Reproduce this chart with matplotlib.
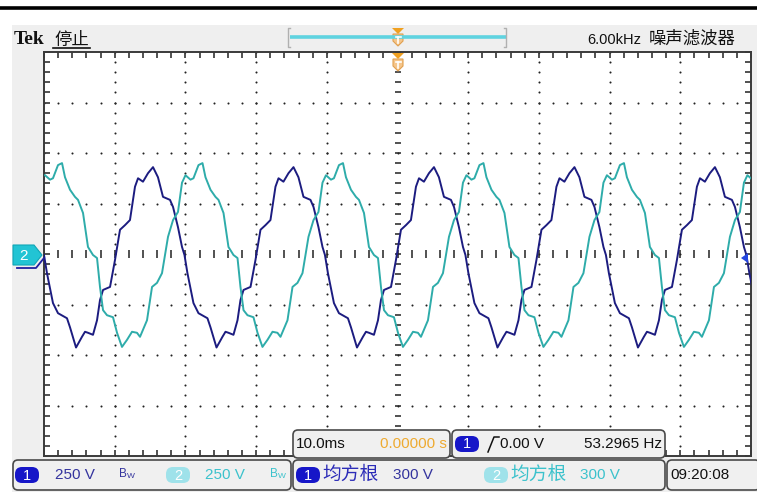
import numpy as np
import matplotlib
matplotlib.use("Agg")
import matplotlib.pyplot as plt
from matplotlib import font_manager
from matplotlib.patches import FancyBboxPatch, Rectangle, Polygon

# -------------------------
# Data: one cycle of each channel
# time in ms from the left edge of the graticule, volts
# -------------------------
ch1_t = [0.0, 0.42, 1.27, 1.98, 3.25, 3.68, 4.53, 5.37, 5.80, 6.22, 6.93, 7.50,
         7.92, 8.35, 9.34, 10.04, 10.75, 11.46, 12.16, 12.87, 13.30, 14.00,
         14.71, 15.42, 16.12, 16.83, 17.82, 18.25, 18.95, 19.52]
ch1_v = [-5, -95, -243, -293, -318, -363, -463, -410, -385, -390, -400, -328,
         -228, -178, -163, -30, 120, 143, 168, 333, 375, 358,
         400, 430, 380, 283, 268, 233, 133, 35]

ch2_t = [0.14, 0.85, 1.27, 1.98, 2.55, 2.97, 3.68, 4.38, 4.81, 5.52, 6.22,
         6.93, 7.50, 7.92, 8.35, 8.91, 9.76, 10.33, 11.03, 11.74, 12.45,
         13.15, 13.58, 14.57, 15.28, 15.98, 16.69, 17.54, 18.25, 18.95, 19.52]
ch2_v = [390, 368, 375, 440, 450, 380, 318, 283, 268, 203, 35,
         -5, -20, -163, -278, -303, -313, -390, -460, -425, -385,
         -390, -410, -328, -163, -143, -95, 85, 168, 208, 353]

period_ms = 19.87
n_cycles = 6

# screen settings
time_per_div = 10.0     # ms
volt_per_div = 250.0    # V
x_divs, y_divs = 10, 8

header_left = ["Tek", "停止"]
header_right = ["6.00kHz", "噪声滤波器"]
ch_scale = ["250 V", "250 V"]
timebase = "10.0ms"
trig_pos = "0.00000 s"
trig_level = "0.00 V"
trig_freq = "53.2965 Hz"
meas_name = "均方根"
meas_val = ["300 V", "300 V"]
clock = "09:20:08"

ch1_col = "#1c1c80"
ch2_col = "#2eacaa"
ch1_badge = "#1616c8"
ch2_badge = "#9fe2ea"
ch1_txt = "#34349e"
ch2_txt = "#3cc2cc"
orange = "#eeaa30"

names = {f.name for f in font_manager.fontManager.ttflist}
narrow = "Liberation Sans Narrow" if "Liberation Sans Narrow" in names else "Liberation Sans"
fs_num = 12 if narrow == "Liberation Sans Narrow" else 11
cjk = ["Noto Sans CJK SC", "DejaVu Sans"]

W, H = 757, 495
fig = plt.figure(figsize=(W / 100, H / 100), dpi=100)

# background layer in pixel coords
bg = fig.add_axes([0, 0, 1, 1], zorder=0)
bg.set_xlim(0, W)
bg.set_ylim(H, 0)
bg.axis("off")
bg.add_patch(Rectangle((12, 25), W - 12, 467, facecolor="#efefef", edgecolor="none"))
bg.plot([0, W], [8, 8], color="black", lw=2.6)

# -------------------------
# graticule
# -------------------------
gl, gt, gr, gb = 44, 52, 751, 456
ax = fig.add_axes([gl / W, 1 - gb / H, (gr - gl) / W, (gb - gt) / H], zorder=1)
xmax = time_per_div * x_divs / 2
ymax = volt_per_div * y_divs / 2
ax.set_xlim(-xmax, xmax)
ax.set_ylim(-ymax, ymax)
ax.set_facecolor("white")
for s in ax.spines.values():
    s.set_color("#3a3a3a")
    s.set_linewidth(1.4)
xt = np.arange(-xmax, xmax + 0.01, time_per_div / 5)
yt = np.arange(-ymax, ymax + 0.01, volt_per_div / 5)
ax.set_xticks([])
ax.set_yticks([])
ax.set_xticks(xt, minor=True)
ax.set_yticks(yt, minor=True)
ax.tick_params(which="minor", direction="in", length=4, width=1.1, color="#222222",
               top=True, bottom=True, left=True, right=True,
               labelbottom=False, labelleft=False)

for i in range(1, x_divs):
    xv = -xmax + i * time_per_div
    if abs(xv) < 1e-9:
        continue
    ax.scatter(np.full(len(yt), xv), yt, s=2.2, color="#222222", lw=0, zorder=2)
for j in range(1, y_divs):
    yv = -ymax + j * volt_per_div
    if abs(yv) < 1e-9:
        continue
    ax.scatter(xt, np.full(len(xt), yv), s=2.2, color="#222222", lw=0, zorder=2)
ax.plot(xt, np.zeros(len(xt)), ls="none", marker="|", ms=6, mew=1.1, color="#222222", zorder=2)
ax.plot(np.zeros(len(yt)), yt, ls="none", marker="_", ms=5, mew=1.1, color="#222222", zorder=2)

# traces
for tc, vc, col in [(ch1_t, ch1_v, ch1_col), (ch2_t, ch2_v, ch2_col)]:
    t = np.concatenate([np.array(tc) + k * period_ms for k in range(n_cycles)]) - xmax
    v = np.tile(vc, n_cycles)
    ax.plot(t, v, color=col, lw=1.4, zorder=3)

# -------------------------
# overlay: header, markers, status boxes
# -------------------------
ov = fig.add_axes([0, 0, 1, 1], zorder=2)
ov.set_xlim(0, W)
ov.set_ylim(H, 0)
ov.axis("off")
ov.patch.set_alpha(0)

ov.text(14, 39, header_left[0], fontsize=14, fontweight="bold", family="Liberation Serif",
        va="center", ha="left", color="#111111")
ov.text(54, 40, header_left[1], fontsize=12.5, family=cjk, va="center", ha="left", color="#111111")
ov.plot([53, 90], [48, 48], color="#111111", lw=1.2)
ov.text(641, 40, header_right[0], fontsize=10.5, family=narrow, va="center", ha="right", color="#111111")
ov.text(649, 39, header_right[1], fontsize=12.5, family=cjk, va="center", ha="left", color="#111111")

# trigger position bar
ov.plot([290, 506], [37, 37], color="#5fd3e0", lw=2.6, solid_capstyle="butt")
ov.plot([290, 288, 288, 290], [28, 28, 47, 47], color="#b0b0b0", lw=1)
ov.plot([504, 506, 506, 504], [28, 28, 47, 47], color="#b0b0b0", lw=1)


def trig_marker(y0):
    ov.add_patch(Polygon([(392, y0), (404, y0), (398, y0 + 6)], closed=True,
                         facecolor="#f0a020", edgecolor="none"))
    ov.add_patch(Polygon([(393, y0 + 6), (403, y0 + 6), (403, y0 + 13), (398, y0 + 18), (393, y0 + 13)],
                         closed=True, facecolor="#f5c58a", edgecolor="#e0a050", lw=0.8))
    ov.plot([395.5, 400.5], [y0 + 9, y0 + 9], color="white", lw=1.2)
    ov.plot([398, 398], [y0 + 9, y0 + 15], color="white", lw=1.2)


trig_marker(28)
trig_marker(53)

# channel markers at the edges
ov.plot([17, 36, 44], [268, 268, 258], color="#2020a0", lw=1.3)
ov.add_patch(Polygon([(13, 245), (34, 245), (42, 255), (34, 265), (13, 265)], closed=True,
                     facecolor="#22c4d4", edgecolor="#10a6b6", lw=0.8))
ov.text(24, 255.5, "2", color="white", fontsize=11, ha="center", va="center", family=narrow)
ov.add_patch(Polygon([(741, 258), (748, 253), (748, 263)], closed=True,
                     facecolor="#2446e0", edgecolor="none"))


def box(x0, y0, x1, y1):
    ov.add_patch(FancyBboxPatch((x0, y0), x1 - x0, y1 - y0,
                                boxstyle="round,pad=0,rounding_size=5",
                                facecolor="#f0f0f0", edgecolor="#4a4a4a", lw=1.2))


def badge(x0, yc, label, fc):
    ov.add_patch(FancyBboxPatch((x0, yc - 8), 24, 16, boxstyle="round,pad=0,rounding_size=7",
                                facecolor=fc, edgecolor="none"))
    ov.text(x0 + 12, yc + 0.5, label, color="white", fontsize=10.5, ha="center", va="center",
            family=narrow)


def bw(x, yc, col):
    ov.text(x, yc - 1, "B", color=col, fontsize=8.5, ha="left", va="center", family=narrow)
    ov.text(x + 8, yc + 2, "W", color=col, fontsize=6, ha="left", va="center", family=narrow)


# bottom left: vertical scales
box(13, 460, 291, 490)
badge(15, 475, "1", ch1_badge)
ov.text(55, 475, ch_scale[0], color=ch1_txt, fontsize=fs_num, family=narrow, va="center", ha="left")
bw(119, 475, ch1_txt)
badge(166, 475, "2", ch2_badge)
ov.text(205, 475, ch_scale[1], color=ch2_txt, fontsize=fs_num, family=narrow, va="center", ha="left")
bw(270, 475, ch2_txt)

# timebase / trigger
box(293, 430, 450, 458)
ov.text(296, 444, timebase, color="#111111", fontsize=fs_num, family=narrow, va="center", ha="left")
ov.text(447, 444, trig_pos, color=orange, fontsize=fs_num, family=narrow, va="center", ha="right")
box(452, 430, 665, 458)
badge(455, 444, "1", ch1_badge)
ov.plot([488, 494, 499], [452, 437, 437], color="#111111", lw=1.1)
ov.text(500, 444, trig_level, color="#111111", fontsize=fs_num, family=narrow, va="center", ha="left")
ov.text(662, 444, trig_freq, color="#111111", fontsize=fs_num, family=narrow, va="center", ha="right")

# measurements
box(293, 460, 665, 490)
badge(296, 475, "1", ch1_badge)
ov.text(322, 474, meas_name, color="#2c2cb8", fontsize=13.5, family=cjk, va="center", ha="left")
ov.text(393, 475, meas_val[0], color=ch1_txt, fontsize=fs_num, family=narrow, va="center", ha="left")
badge(484, 475, "2", ch2_badge)
ov.text(510, 474, meas_name, color=ch2_txt, fontsize=13.5, family=cjk, va="center", ha="left")
ov.text(580, 475, meas_val[1], color=ch2_txt, fontsize=fs_num, family=narrow, va="center", ha="left")

# clock
box(667, 460, 760, 490)
ov.text(670, 475, clock, color="#111111", fontsize=fs_num, family=narrow, va="center", ha="left")

fig.savefig("out.png", dpi=100)
